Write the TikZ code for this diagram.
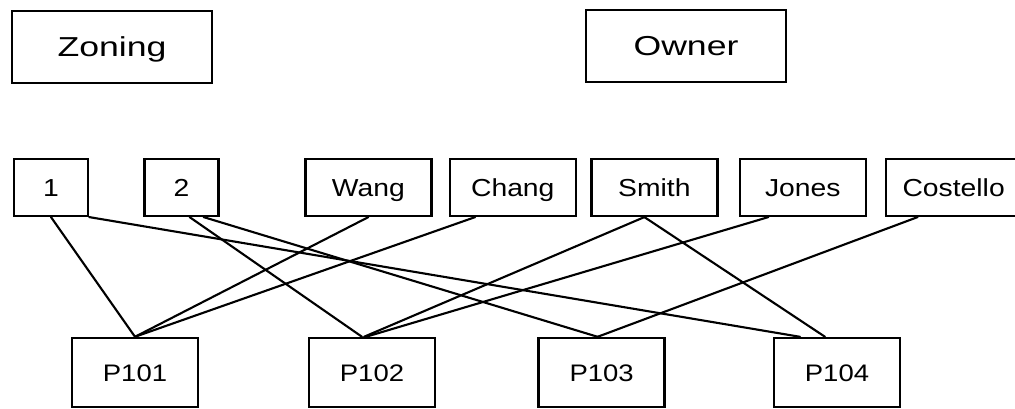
\documentclass[tikz,border=0pt]{standalone}
\usepackage{fontspec}
\setmainfont[FakeStretch=1.15]{Liberation Sans}
\newfontfamily\widefont[FakeStretch=1.3]{Liberation Sans}
\usetikzlibrary{positioning}
\tikzset{link/.style={line width=1.5pt,line cap=round}}

\begin{document}
\begin{tikzpicture}[node distance=4mm,
		entity/.style={rectangle,draw=black,line width=1.7pt,minimum width=5cm,minimum height=1.8cm,text height=14pt,text depth=0pt,font=\widefont\fontsize{19.5}{23}\selectfont},
		value/.style={rectangle,draw=black,line width=1.7pt,minimum width=3.15cm,minimum height=1.425cm,text height=12.5pt,text depth=0pt,font=\fontsize{17.5}{21}\selectfont},
		zone/.style={value,minimum width=1.85cm},
		parcel/.style={rectangle,draw=black,line width=1.7pt,minimum width=3.15cm,minimum height=1.725cm,text height=12.2pt,text depth=0pt,font=\fontsize{17}{20}\selectfont}]
		\useasboundingbox (0,0) rectangle (25.375,10.225);
		\node[entity] (zoning) at (2.8,9.05) {Zoning};
		\node[entity] (owner) at (17.15,9.075) {Owner};

		\node[zone] (z1) at (1.275,5.54) {1};
		\node[zone] (z2) at (4.54,5.54) {2};

		\node[value] (wang) at (9.21,5.54) {Wang};
		\node[value] (chang) [right=0.4cm of wang] {Chang};
		\node[value] (smith) [right=0.33cm of chang] {Smith};
		\node[value] (jones) [right=0.5cm of smith] {Jones};
		\node[value,minimum width=3.375cm] (costello) [right=0.45cm of jones] {Costello};

		\node[parcel] (p101) at (3.375,0.9125) {P101};
		\node[parcel] (p102) at (9.3,0.9125) {P102};
		\node[parcel] (p103) at (15.04,0.9125) {P103};
		\node[parcel] (p104) at (20.925,0.9125) {P104};

		% zoning of each parcel
		\draw[link] (z1.south) -- (p101.north);
		\draw[link] (z1.south east) -- ([xshift=-0.925cm]p104.north);
		\draw[link] ([xshift=0.2cm]z2.south) -- ([xshift=-0.25cm]p102.north);
		\draw[link] ([xshift=0.55cm]z2.south) -- ([xshift=-0.1cm]p103.north);

		% owners of each parcel
		\draw[link] (wang.south) -- (p101.north);
		\draw[link] ([xshift=-0.94cm]chang.south) -- (p101.north);
		\draw[link] ([xshift=-0.25cm]smith.south) -- ([xshift=-0.2cm]p102.north);
		\draw[link] ([xshift=-0.25cm]smith.south) -- ([xshift=-0.3cm]p104.north);
		\draw[link] ([xshift=-0.86cm]jones.south) -- ([xshift=-0.15cm]p102.north);
		\draw[link] ([xshift=-0.9cm]costello.south) -- ([xshift=-0.1cm]p103.north);
	\end{tikzpicture}
\end{document}
